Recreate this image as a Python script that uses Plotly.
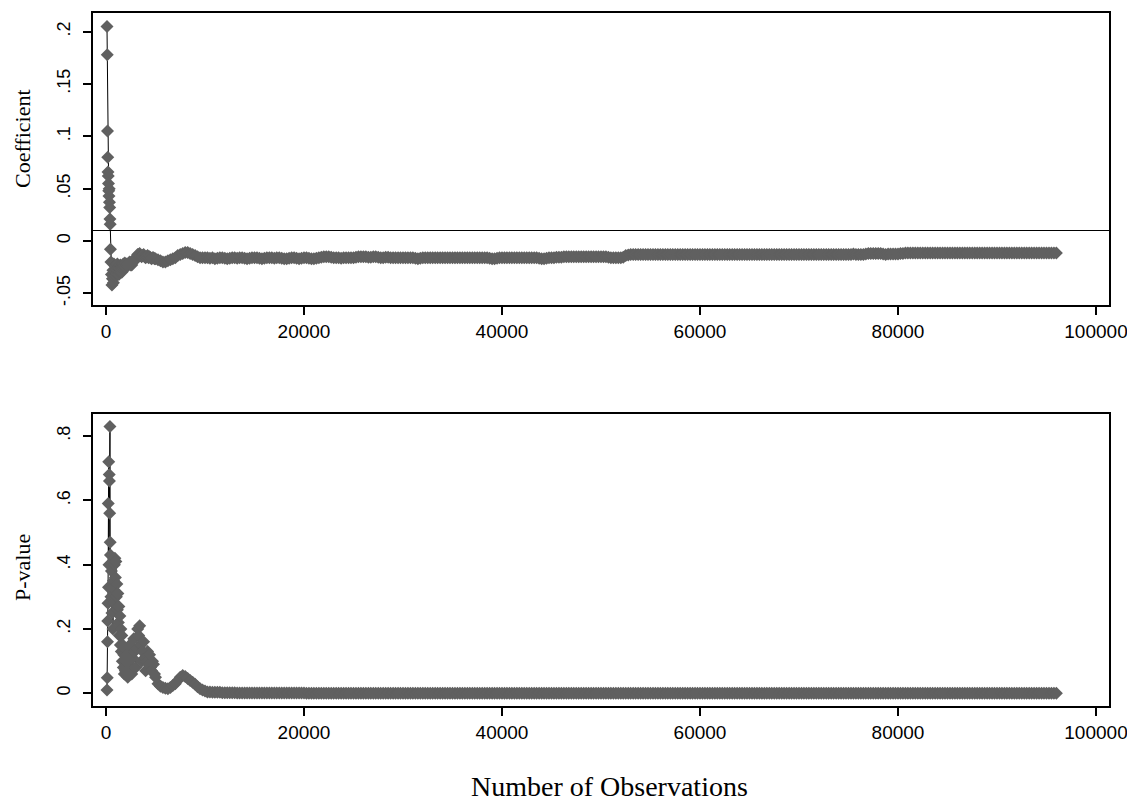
import plotly.graph_objects as go

# ---------------- data ----------------
obs_early = [100, 125, 150, 175, 200, 225, 250, 275, 300, 325, 350, 375, 400, 425,
             450, 500, 550, 600, 650, 700, 750, 800, 850, 900, 950, 1000, 1050, 1100, 1150, 1200,
             1250, 1300, 1350, 1400, 1450, 1500, 1550, 1600, 1650, 1700, 1750, 1800, 1850, 1900,
             1950, 2000,
             2100, 2200, 2300, 2400, 2500, 2600, 2700, 2800, 2900, 3000, 3100, 3200, 3300, 3400, 3500,
             3600, 3700, 3800, 3900, 4000, 4100, 4200, 4300, 4400, 4500, 4600, 4700, 4800, 4900, 5000,
             5250, 5500, 5750, 6000, 6250, 6500, 6750, 7000, 7250, 7500, 7750, 8000, 8250, 8500, 8750,
             9000, 9250, 9500, 9750, 10000]

coef_early = [0.205, 0.178, 0.105, 0.080, 0.066, 0.062, 0.055, 0.048, 0.043, 0.050, 0.037, 0.032, 0.021,
              0.016,
              -0.008, -0.020, -0.032, -0.042, -0.036, -0.028, -0.040, -0.022, -0.035, -0.030, -0.024,
              -0.033, -0.027, -0.031, -0.022, -0.029, -0.025, -0.032, -0.026, -0.030, -0.023, -0.028,
              -0.025, -0.030, -0.024, -0.027, -0.022, -0.026, -0.024, -0.021, -0.025, -0.023,
              -0.022, -0.024, -0.021, -0.020, -0.023, -0.023, -0.020, -0.018, -0.019, -0.017, -0.015,
              -0.013, -0.013, -0.012, -0.014, -0.015, -0.014, -0.013, -0.015, -0.016, -0.015, -0.014,
              -0.016, -0.015, -0.016, -0.017, -0.016, -0.016, -0.017, -0.017,
              -0.018, -0.019, -0.020, -0.020, -0.019, -0.018, -0.017, -0.016, -0.014, -0.013, -0.012,
              -0.011, -0.011, -0.012, -0.013, -0.014, -0.015, -0.016, -0.016, -0.016]

pval_early = [0.010, 0.048, 0.160, 0.225, 0.280, 0.590, 0.330, 0.720, 0.400, 0.680, 0.660, 0.560, 0.830,
              0.470,
              0.430, 0.300, 0.380, 0.250, 0.330, 0.200, 0.350, 0.280, 0.400, 0.420, 0.360, 0.410, 0.300,
              0.340, 0.260, 0.310, 0.220, 0.270, 0.180, 0.240, 0.150, 0.200, 0.130, 0.180, 0.100, 0.150,
              0.080, 0.120, 0.060, 0.140, 0.070, 0.100,
              0.120, 0.050, 0.090, 0.150, 0.070, 0.060, 0.110, 0.170, 0.130, 0.080, 0.140, 0.200, 0.180,
              0.210, 0.150, 0.100, 0.130, 0.160, 0.110, 0.070, 0.100, 0.130, 0.090, 0.120, 0.080, 0.070,
              0.100, 0.090, 0.060, 0.050,
              0.030, 0.022, 0.018, 0.016, 0.014, 0.018, 0.024, 0.030, 0.040, 0.050, 0.055, 0.052, 0.046,
              0.040, 0.034, 0.028, 0.020, 0.014, 0.010, 0.007]

obs_late = [
    10250, 10500, 10750, 11000, 11250, 11500, 11750, 12000, 12250, 12500, 12750, 13000, 13250, 13500, 13750, 14000, 14250, 14500, 14750, 15000,
    15250, 15500, 15750, 16000, 16250, 16500, 16750, 17000, 17250, 17500, 17750, 18000, 18250, 18500, 18750, 19000, 19250, 19500, 19750, 20000,
    20250, 20500, 20750, 21000, 21250, 21500, 21750, 22000, 22250, 22500, 22750, 23000, 23250, 23500, 23750, 24000, 24250, 24500, 24750, 25000,
    25250, 25500, 25750, 26000, 26250, 26500, 26750, 27000, 27250, 27500, 27750, 28000, 28250, 28500, 28750, 29000, 29250, 29500, 29750, 30000,
    30250, 30500, 30750, 31000, 31250, 31500, 31750, 32000, 32250, 32500, 32750, 33000, 33250, 33500, 33750, 34000, 34250, 34500, 34750, 35000,
    35250, 35500, 35750, 36000, 36250, 36500, 36750, 37000, 37250, 37500, 37750, 38000, 38250, 38500, 38750, 39000, 39250, 39500, 39750, 40000,
    40250, 40500, 40750, 41000, 41250, 41500, 41750, 42000, 42250, 42500, 42750, 43000, 43250, 43500, 43750, 44000, 44250, 44500, 44750, 45000,
    45250, 45500, 45750, 46000, 46250, 46500, 46750, 47000, 47250, 47500, 47750, 48000, 48250, 48500, 48750, 49000, 49250, 49500, 49750, 50000,
    50250, 50500, 50750, 51000, 51250, 51500, 51750, 52000, 52250, 52500, 52750, 53000, 53250, 53500, 53750, 54000, 54250, 54500, 54750, 55000,
    55250, 55500, 55750, 56000, 56250, 56500, 56750, 57000, 57250, 57500, 57750, 58000, 58250, 58500, 58750, 59000, 59250, 59500, 59750, 60000,
    60250, 60500, 60750, 61000, 61250, 61500, 61750, 62000, 62250, 62500, 62750, 63000, 63250, 63500, 63750, 64000, 64250, 64500, 64750, 65000,
    65250, 65500, 65750, 66000, 66250, 66500, 66750, 67000, 67250, 67500, 67750, 68000, 68250, 68500, 68750, 69000, 69250, 69500, 69750, 70000,
    70250, 70500, 70750, 71000, 71250, 71500, 71750, 72000, 72250, 72500, 72750, 73000, 73250, 73500, 73750, 74000, 74250, 74500, 74750, 75000,
    75250, 75500, 75750, 76000, 76250, 76500, 76750, 77000, 77250, 77500, 77750, 78000, 78250, 78500, 78750, 79000, 79250, 79500, 79750, 80000,
    80250, 80500, 80750, 81000, 81250, 81500, 81750, 82000, 82250, 82500, 82750, 83000, 83250, 83500, 83750, 84000, 84250, 84500, 84750, 85000,
    85250, 85500, 85750, 86000, 86250, 86500, 86750, 87000, 87250, 87500, 87750, 88000, 88250, 88500, 88750, 89000, 89250, 89500, 89750, 90000,
    90250, 90500, 90750, 91000, 91250, 91500, 91750, 92000, 92250, 92500, 92750, 93000, 93250, 93500, 93750, 94000, 94250, 94500, 94750, 95000,
    95250, 95500, 95750, 96000]

coef_late = [
    -0.016, -0.0165, -0.016, -0.017, -0.0165, -0.016, -0.016, -0.0165, -0.017, -0.0165, -0.016, -0.016, -0.0165, -0.016, -0.016, -0.0165, -0.017, -0.0165, -0.016, -0.016,
    -0.016, -0.0165, -0.017, -0.0165, -0.016, -0.016, -0.016, -0.0165, -0.016, -0.016, -0.0165, -0.017, -0.017, -0.0165, -0.016, -0.016, -0.0165, -0.017, -0.0165, -0.016,
    -0.016, -0.0165, -0.017, -0.017, -0.0165, -0.016, -0.0155, -0.015, -0.015, -0.015, -0.0155, -0.016, -0.016, -0.016, -0.0165, -0.016, -0.016, -0.016, -0.016, -0.016,
    -0.0155, -0.015, -0.015, -0.015, -0.015, -0.0155, -0.0155, -0.015, -0.015, -0.0155, -0.016, -0.016, -0.0155, -0.0155, -0.016, -0.016, -0.016, -0.016, -0.016, -0.016,
    -0.016, -0.016, -0.016, -0.016, -0.0165, -0.017, -0.0165, -0.016, -0.016, -0.016, -0.016, -0.016, -0.016, -0.016, -0.016, -0.016, -0.016, -0.016, -0.016, -0.016,
    -0.016, -0.016, -0.016, -0.016, -0.016, -0.016, -0.016, -0.016, -0.016, -0.016, -0.016, -0.016, -0.016, -0.016, -0.0165, -0.017, -0.017, -0.0165, -0.016, -0.016,
    -0.016, -0.016, -0.016, -0.016, -0.016, -0.016, -0.016, -0.016, -0.016, -0.016, -0.016, -0.016, -0.016, -0.016, -0.0165, -0.017, -0.017, -0.0165, -0.016, -0.016,
    -0.016, -0.0155, -0.0155, -0.0155, -0.015, -0.015, -0.015, -0.015, -0.015, -0.015, -0.015, -0.015, -0.015, -0.015, -0.015, -0.015, -0.015, -0.015, -0.015, -0.015,
    -0.015, -0.015, -0.0155, -0.016, -0.016, -0.016, -0.016, -0.016, -0.0155, -0.014, -0.0135, -0.013, -0.013, -0.013, -0.013, -0.013, -0.013, -0.013, -0.013, -0.013,
    -0.013, -0.013, -0.013, -0.013, -0.013, -0.013, -0.013, -0.013, -0.013, -0.013, -0.013, -0.013, -0.013, -0.013, -0.013, -0.013, -0.013, -0.013, -0.013, -0.013,
    -0.013, -0.013, -0.013, -0.013, -0.013, -0.013, -0.013, -0.013, -0.013, -0.013, -0.013, -0.013, -0.013, -0.013, -0.013, -0.013, -0.013, -0.013, -0.013, -0.013,
    -0.013, -0.013, -0.013, -0.013, -0.013, -0.013, -0.013, -0.013, -0.013, -0.013, -0.013, -0.013, -0.013, -0.013, -0.013, -0.013, -0.013, -0.013, -0.013, -0.013,
    -0.013, -0.013, -0.013, -0.013, -0.013, -0.013, -0.013, -0.013, -0.013, -0.013, -0.013, -0.013, -0.013, -0.013, -0.013, -0.013, -0.013, -0.013, -0.013, -0.013,
    -0.013, -0.0125, -0.013, -0.013, -0.013, -0.013, -0.0125, -0.012, -0.012, -0.012, -0.012, -0.012, -0.012, -0.0125, -0.013, -0.0125, -0.0125, -0.0125, -0.0125, -0.0125,
    -0.012, -0.012, -0.0115, -0.0115, -0.0115, -0.0115, -0.0115, -0.0115, -0.0115, -0.0115, -0.0115, -0.0115, -0.0115, -0.0115, -0.0115, -0.0115, -0.0115, -0.0115, -0.0115, -0.0115,
    -0.0115, -0.0115, -0.0115, -0.0115, -0.0115, -0.0115, -0.0115, -0.0115, -0.0115, -0.0115, -0.0115, -0.0115, -0.0115, -0.0115, -0.0115, -0.0115, -0.0115, -0.0115, -0.0115, -0.0115,
    -0.0115, -0.0115, -0.0115, -0.0115, -0.0115, -0.0115, -0.0115, -0.0115, -0.0115, -0.0115, -0.0115, -0.0115, -0.0115, -0.0115, -0.0115, -0.0115, -0.0115, -0.0115, -0.0115, -0.0115,
    -0.0115, -0.0115, -0.0115, -0.0115]

pval_late = [
    0.004, 0.004, 0.003, 0.003, 0.003, 0.003, 0.002, 0.002, 0.002, 0.002, 0.002, 0.002, 0.001, 0.001, 0.001, 0.001, 0.001, 0.001, 0.001, 0.001,
    0.001, 0.001, 0.001, 0.001, 0.001, 0.001, 0.001, 0.001, 0.001, 0.001, 0.001, 0.001, 0.001, 0.001, 0.001, 0.001, 0.001, 0.001, 0.001, 0.001,
    0.0, 0.0, 0.0, 0.0, 0.0, 0.0, 0.0, 0.0, 0.0, 0.0, 0.0, 0.0, 0.0, 0.0, 0.0, 0.0, 0.0, 0.0, 0.0, 0.0,
    0.0, 0.0, 0.0, 0.0, 0.0, 0.0, 0.0, 0.0, 0.0, 0.0, 0.0, 0.0, 0.0, 0.0, 0.0, 0.0, 0.0, 0.0, 0.0, 0.0,
    0.0, 0.0, 0.0, 0.0, 0.0, 0.0, 0.0, 0.0, 0.0, 0.0, 0.0, 0.0, 0.0, 0.0, 0.0, 0.0, 0.0, 0.0, 0.0, 0.0,
    0.0, 0.0, 0.0, 0.0, 0.0, 0.0, 0.0, 0.0, 0.0, 0.0, 0.0, 0.0, 0.0, 0.0, 0.0, 0.0, 0.0, 0.0, 0.0, 0.0,
    0.0, 0.0, 0.0, 0.0, 0.0, 0.0, 0.0, 0.0, 0.0, 0.0, 0.0, 0.0, 0.0, 0.0, 0.0, 0.0, 0.0, 0.0, 0.0, 0.0,
    0.0, 0.0, 0.0, 0.0, 0.0, 0.0, 0.0, 0.0, 0.0, 0.0, 0.0, 0.0, 0.0, 0.0, 0.0, 0.0, 0.0, 0.0, 0.0, 0.0,
    0.0, 0.0, 0.0, 0.0, 0.0, 0.0, 0.0, 0.0, 0.0, 0.0, 0.0, 0.0, 0.0, 0.0, 0.0, 0.0, 0.0, 0.0, 0.0, 0.0,
    0.0, 0.0, 0.0, 0.0, 0.0, 0.0, 0.0, 0.0, 0.0, 0.0, 0.0, 0.0, 0.0, 0.0, 0.0, 0.0, 0.0, 0.0, 0.0, 0.0,
    0.0, 0.0, 0.0, 0.0, 0.0, 0.0, 0.0, 0.0, 0.0, 0.0, 0.0, 0.0, 0.0, 0.0, 0.0, 0.0, 0.0, 0.0, 0.0, 0.0,
    0.0, 0.0, 0.0, 0.0, 0.0, 0.0, 0.0, 0.0, 0.0, 0.0, 0.0, 0.0, 0.0, 0.0, 0.0, 0.0, 0.0, 0.0, 0.0, 0.0,
    0.0, 0.0, 0.0, 0.0, 0.0, 0.0, 0.0, 0.0, 0.0, 0.0, 0.0, 0.0, 0.0, 0.0, 0.0, 0.0, 0.0, 0.0, 0.0, 0.0,
    0.0, 0.0, 0.0, 0.0, 0.0, 0.0, 0.0, 0.0, 0.0, 0.0, 0.0, 0.0, 0.0, 0.0, 0.0, 0.0, 0.0, 0.0, 0.0, 0.0,
    0.0, 0.0, 0.0, 0.0, 0.0, 0.0, 0.0, 0.0, 0.0, 0.0, 0.0, 0.0, 0.0, 0.0, 0.0, 0.0, 0.0, 0.0, 0.0, 0.0,
    0.0, 0.0, 0.0, 0.0, 0.0, 0.0, 0.0, 0.0, 0.0, 0.0, 0.0, 0.0, 0.0, 0.0, 0.0, 0.0, 0.0, 0.0, 0.0, 0.0,
    0.0, 0.0, 0.0, 0.0, 0.0, 0.0, 0.0, 0.0, 0.0, 0.0, 0.0, 0.0, 0.0, 0.0, 0.0, 0.0, 0.0, 0.0, 0.0, 0.0,
    0.0, 0.0, 0.0, 0.0]

ref_line_value = 0.01

x_tickvals = [0, 20000, 40000, 60000, 80000, 100000]
x_ticktext = ["0", "20000", "40000", "60000", "80000", "100000"]
coef_tickvals = [-0.05, 0, 0.05, 0.1, 0.15, 0.2]
coef_ticktext = ["-.05", "0", ".05", ".1", ".15", ".2"]
pval_tickvals = [0, 0.2, 0.4, 0.6, 0.8]
pval_ticktext = ["0", ".2", ".4", ".6", ".8"]

coef_title = "Coefficient"
pval_title = "P-value"
x_title = "Number of Observations"

obs = obs_early + obs_late
coef = coef_early + coef_late
pval = pval_early + pval_late

# ---------------- figure ----------------
# the page body has an 8px margin, so the figure is sized/placed to fill the window
OX, OY = 8, 8
W, H = 1135 - OX, 806 - OY


def px_x(v):
    return (v - OX) / W


def px_y(v):
    return 1 - (v - OY) / H


MARKER = dict(symbol="diamond", size=10, color="#606060", line=dict(width=0))
LINE = dict(color="black", width=1)

fig = go.Figure()
fig.add_trace(go.Scatter(x=obs, y=coef, mode="lines+markers", marker=MARKER, line=LINE,
                         xaxis="x", yaxis="y", showlegend=False))
fig.add_trace(go.Scatter(x=obs, y=pval, mode="lines+markers", marker=MARKER, line=LINE,
                         xaxis="x2", yaxis="y2", showlegend=False))

tick_font = dict(family="Liberation Sans, Arial, sans-serif", size=19, color="black")
ytick_font = dict(family="Liberation Sans, Arial, sans-serif", size=18, color="black")
title_font = dict(family="Liberation Serif, Times New Roman, serif", color="black")

xdom = [px_x(93), px_x(1109)]
common_x = dict(range=[-1313, 101313], tickmode="array", tickvals=x_tickvals, ticktext=x_ticktext,
                ticks="outside", ticklen=8, tickwidth=1.5, tickcolor="black",
                showline=True, linecolor="black", linewidth=2, mirror=True,
                showgrid=False, zeroline=False, tickfont=tick_font, domain=xdom, automargin=False)
common_y = dict(ticks="outside", ticklen=8, tickwidth=1.5, tickcolor="black", tickmode="array",
                showline=True, linecolor="black", linewidth=2, mirror=True, tickangle=-90,
                ticklabelstandoff=6,
                showgrid=False, zeroline=False, tickfont=ytick_font, automargin=False)

fig.update_layout(
    width=W, height=H,
    margin=dict(l=0, r=0, t=0, b=0),
    paper_bgcolor="white", plot_bgcolor="white",
    xaxis=dict(anchor="y", **common_x),
    xaxis2=dict(anchor="y2", **common_x),
    yaxis=dict(anchor="x", domain=[px_y(305), px_y(13)], range=[-0.0612, 0.2179],
               tickvals=coef_tickvals, ticktext=coef_ticktext, **common_y),
    yaxis2=dict(anchor="x2", domain=[px_y(706), px_y(414)], range=[-0.0395, 0.8685],
                tickvals=pval_tickvals, ticktext=pval_ticktext, **common_y),
)

fig.add_shape(type="line", xref="x domain", yref="y", x0=0, x1=1, y0=ref_line_value, y1=ref_line_value,
              line=dict(color="black", width=1))

fig.add_annotation(text=coef_title, xref="paper", yref="paper", x=px_x(22), y=px_y(139),
                   textangle=-90, showarrow=False, xanchor="center", yanchor="middle",
                   font=dict(size=22, **title_font))
fig.add_annotation(text=pval_title, xref="paper", yref="paper", x=px_x(22), y=px_y(568),
                   textangle=-90, showarrow=False, xanchor="center", yanchor="middle",
                   font=dict(size=22, **title_font))
fig.add_annotation(text=x_title, xref="paper", yref="paper", x=px_x(609), y=px_y(804),
                   showarrow=False, xanchor="center", yanchor="bottom",
                   font=dict(size=28, **title_font))

fig.write_html("out.html")
